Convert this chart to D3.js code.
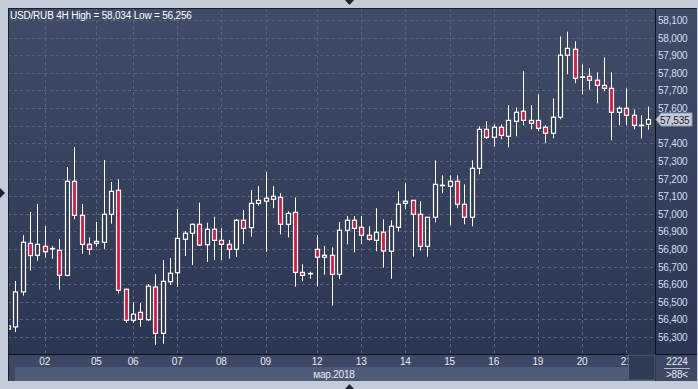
<!DOCTYPE html>
<html>
<head>
<meta charset="utf-8">
<script src="https://cdn.jsdelivr.net/npm/d3@7"></script>
<style>
  body { margin: 0; background: #c3ccd9; }
  svg { display: block; }
  text { font-family: 'Liberation Sans', Arial, sans-serif; font-size: 10px; letter-spacing: -0.2px; }
</style>
</head>
<body>
<div class="chart-container"></div>
<script>
// USD/RUB 4H candles
var opens = [56345, 56357, 56556, 56832, 56764, 56815, 56800, 56792, 56650, 57184,
  56991, 56826, 56832, 56838, 56997, 57133, 56571, 56395, 56440, 56398,
  56584, 56321, 56614, 56665, 56855, 56889, 56940, 56824, 56912, 56849,
  56826, 56798, 56963, 56921, 57059, 57071, 57082, 57093, 56940, 57008,
  56667, 56661, 56798, 56753, 56764, 56656, 56906, 56963, 56923, 56878,
  56849, 56895, 56787, 56923, 57059, 57076, 56997, 56815, 56980, 57162,
  57156, 57184, 57054, 56980, 57258, 57479, 57434, 57491, 57440, 57525,
  57582, 57530, 57530, 57491, 57457, 57548, 57900, 57934, 57777, 57780,
  57758, 57729, 57712, 57576, 57599, 57559, 57503, 57508];
var highs = [56385, 56618, 56879, 57010, 57055, 56930, 56817, 56856, 57265, 57379,
  57055, 56866, 56953, 57305, 57180, 57195, 56575, 56497, 56493, 56601,
  56657, 56737, 56748, 57027, 56902, 56945, 57063, 56949, 56983, 56919,
  56851, 56970, 57021, 57135, 57157, 57237, 57157, 57116, 57014, 57093,
  56713, 56671, 56879, 56817, 56809, 56953, 56987, 56987, 56987, 56929,
  57031, 56968, 56963, 57127, 57173, 57078, 57071, 56981, 57303, 57218,
  57218, 57218, 57167, 57303, 57496, 57525, 57508, 57508, 57616, 57604,
  57809, 57616, 57678, 57502, 57655, 58007, 58034, 57979, 57848, 57826,
  57803, 57888, 57803, 57610, 57712, 57593, 57559, 57608];
var lows = [56334, 56328, 56535, 56677, 56733, 56750, 56744, 56568, 56645, 56968,
  56773, 56767, 56813, 56801, 56943, 56546, 56381, 56381, 56358, 56392,
  56256, 56262, 56597, 56585, 56760, 56709, 56817, 56726, 56737, 56737,
  56745, 56754, 56828, 56870, 57046, 56784, 57031, 56883, 56866, 56586,
  56616, 56631, 56586, 56654, 56478, 56628, 56826, 56781, 56828, 56847,
  56787, 56694, 56631, 56900, 57025, 56756, 56790, 56756, 56951, 57116,
  56934, 57031, 56940, 56929, 57224, 57424, 57381, 57423, 57377, 57440,
  57502, 57479, 57468, 57400, 57428, 57536, 57792, 57741, 57678, 57703,
  57627, 57695, 57417, 57502, 57502, 57479, 57428, 57477];
var closes = [56363, 56556, 56838, 56762, 56826, 56784, 56803, 56650, 57184, 56991,
  56826, 56798, 56843, 56997, 57127, 56565, 56395, 56430, 56400, 56589,
  56321, 56616, 56662, 56860, 56889, 56940, 56822, 56912, 56849, 56826,
  56798, 56963, 56917, 57059, 57076, 57088, 57099, 56940, 57002, 56667,
  56650, 56659, 56753, 56764, 56656, 56906, 56963, 56917, 56878, 56855,
  56895, 56788, 56929, 57054, 57071, 56997, 56815, 56980, 57167, 57160,
  57184, 57054, 56980, 57258, 57479, 57434, 57491, 57445, 57530, 57576,
  57530, 57513, 57485, 57457, 57548, 57900, 57939, 57769, 57775, 57758,
  57729, 57712, 57576, 57599, 57559, 57502, 57502, 57535];

// first candle of each trading day (march 2018)
var dayLabels = ['02', '05', '06', '07', '08', '09', '12', '13', '14', '15', '16', '19', '20', '21'];
var dayStart = [5, 12, 17, 23, 29, 35, 42, 48, 54, 60, 66, 72, 78, 84];

var title = 'USD/RUB 4H High = 58,034 Low = 56,256';
var monthLabel = 'мар.2018';
var lastPrice = 57535;

var W = 698, H = 389,
  pLeft = 8, pTop = 8, pRight = 655, pBottom = 354, outerR = 697, outerB = 381;

var svg = d3
  .select('.chart-container')
  .append('svg')
  .attr('width', W)
  .attr('height', H);

var defs = svg.append('defs');
var grad = defs
  .append('linearGradient')
  .attr('id', 'bg')
  .attr('x1', 0).attr('y1', 0).attr('x2', 0).attr('y2', 1);
grad.append('stop').attr('offset', '0%').attr('stop-color', '#3f4c67');
grad.append('stop').attr('offset', '100%').attr('stop-color', '#2b3653');

defs
  .append('clipPath')
  .attr('id', 'plot-clip')
  .append('rect')
  .attr('x', pLeft + 1)
  .attr('y', pTop + 1)
  .attr('width', pRight - pLeft - 1)
  .attr('height', pBottom - pTop - 1);

// panel
svg
  .append('rect')
  .attr('x', pLeft)
  .attr('y', pTop)
  .attr('width', outerR - pLeft)
  .attr('height', pBottom - pTop)
  .attr('fill', 'url(#bg)');

// time axis bands
svg
  .append('rect')
  .attr('x', pLeft)
  .attr('y', pBottom)
  .attr('width', outerR - pLeft)
  .attr('height', outerB - pBottom)
  .attr('fill', '#3d4964');
svg
  .append('rect')
  .attr('x', 15)
  .attr('y', 367)
  .attr('width', pRight - 15)
  .attr('height', outerB - 367)
  .attr('fill', '#4e5c77');

// frame lines
svg
  .append('path')
  .attr('d', 'M' + (pLeft + 0.5) + ',' + outerB + 'V' + (pTop + 0.5) + 'H' + outerR)
  .attr('fill', 'none')
  .attr('stroke', '#1a2030');
svg
  .append('line')
  .attr('x1', pLeft)
  .attr('x2', outerR)
  .attr('y1', pBottom + 0.5)
  .attr('y2', pBottom + 0.5)
  .attr('stroke', '#0e1220');
svg
  .append('line')
  .attr('x1', pRight + 0.5)
  .attr('x2', pRight + 0.5)
  .attr('y1', pTop)
  .attr('y2', outerB)
  .attr('stroke', '#0e1220');

// scales
var x = d3
  .scaleLinear()
  .domain([0, opens.length - 1])
  .range([7.94, 7.94 + 7.36 * (opens.length - 1)]);

var y = d3.scaleLinear().domain([56300, 58100]).range([337, 20]);

var plot = svg.append('g').attr('clip-path', 'url(#plot-clip)');

// grid
plot
  .selectAll('.hgrid')
  .data(y.ticks(18))
  .enter()
  .append('line')
  .attr('class', 'hgrid')
  .attr('x1', pLeft)
  .attr('x2', pRight)
  .attr('y1', function (d) { return Math.round(y(d)) + 0.5; })
  .attr('y2', function (d) { return Math.round(y(d)) + 0.5; })
  .attr('stroke', '#58647d')
  .attr('stroke-dasharray', '3,3');

plot
  .selectAll('.vgrid')
  .data(dayStart)
  .enter()
  .append('line')
  .attr('class', 'vgrid')
  .attr('x1', function (d) { return Math.round(x(d)) + 0.5; })
  .attr('x2', function (d) { return Math.round(x(d)) + 0.5; })
  .attr('y1', pTop)
  .attr('y2', pBottom)
  .attr('stroke', '#58647d')
  .attr('stroke-dasharray', '3,3');

// candles
var idx = d3.range(opens.length);
var candle = plot
  .selectAll('.candle')
  .data(idx)
  .enter()
  .append('g')
  .attr('class', 'candle');

candle
  .append('line')
  .attr('x1', function (i) { return Math.round(x(i)) + 0.5; })
  .attr('x2', function (i) { return Math.round(x(i)) + 0.5; })
  .attr('y1', function (i) { return y(highs[i]); })
  .attr('y2', function (i) { return y(lows[i]); })
  .attr('stroke', '#ffffff')
  .attr('stroke-width', 1);

candle
  .append('rect')
  .attr('x', function (i) { return Math.round(x(i)) - 1.5; })
  .attr('width', 4)
  .attr('y', function (i) { return y(Math.max(opens[i], closes[i])); })
  .attr('height', function (i) {
    return Math.max(0.5, Math.abs(y(opens[i]) - y(closes[i])));
  })
  .attr('fill', function (i) { return closes[i] < opens[i] ? '#e3163e' : '#2f3a56'; })
  .attr('stroke', '#ffffff')
  .attr('stroke-width', 1.2);

// title
svg
  .append('text')
  .attr('x', 10)
  .attr('y', 19)
  .attr('fill', '#ffffff')
  .text(title);

// price axis (the tick under the last-price marker is hidden by it)
var py = y(lastPrice);
svg
  .selectAll('.ptick')
  .data(y.ticks(18).filter(function (d) { return Math.abs(y(d) - py) > 10; }))
  .enter()
  .append('text')
  .attr('class', 'ptick')
  .attr('x', 658)
  .attr('y', function (d) { return y(d) + 4; })
  .attr('fill', '#d2def2')
  .text(function (d) { return d3.format(',')(d); });

// current price marker
svg
  .append('path')
  .attr('d', 'M656,' + py + 'L661,' + (py - 6.5) + 'H692V' + (py + 6.5) + 'H661Z')
  .attr('fill', '#c4cbd6')
  .attr('stroke', '#8f99aa');
svg
  .append('text')
  .attr('x', 660)
  .attr('y', py + 4)
  .attr('fill', '#1b2236')
  .text(d3.format(',')(lastPrice));

// date axis
svg
  .selectAll('.dtick')
  .data(dayStart)
  .enter()
  .append('text')
  .attr('class', 'dtick')
  .attr('x', function (d) { return x(d); })
  .attr('y', 365)
  .attr('text-anchor', 'middle')
  .attr('fill', '#e4eaf4')
  .text(function (d, i) { return dayLabels[i]; });

svg
  .append('text')
  .attr('x', 334)
  .attr('y', 378)
  .attr('text-anchor', 'middle')
  .attr('fill', '#e4eaf4')
  .text(monthLabel);

// scroll thumb at the right end of the time axis
svg
  .append('rect')
  .attr('x', 628.5)
  .attr('y', pBottom + 1)
  .attr('width', pRight - 628.5)
  .attr('height', outerB - pBottom - 2)
  .attr('fill', '#2f3b56')
  .attr('stroke', '#56627a');

// corner counters
svg
  .append('text')
  .attr('x', 677)
  .attr('y', 365)
  .attr('text-anchor', 'middle')
  .attr('fill', '#e4eaf4')
  .text('2224');
svg
  .append('line')
  .attr('x1', 664)
  .attr('x2', 690)
  .attr('y1', 368.5)
  .attr('y2', 368.5)
  .attr('stroke', '#aeb8c8');
svg
  .append('text')
  .attr('x', 677)
  .attr('y', 378)
  .attr('text-anchor', 'middle')
  .attr('fill', '#e4eaf4')
  .text('>' + opens.length + '<');

// little scroll arrows on the frame
svg
  .append('path')
  .attr('d', 'M345,0H354L349.5,5Z')
  .attr('fill', '#1b2233');
svg
  .append('path')
  .attr('d', 'M0,188V198L5,193Z')
  .attr('fill', '#1b2233');
svg
  .append('path')
  .attr('d', 'M345,389H354L349.5,384Z')
  .attr('fill', '#1b2233');
</script>
</body>
</html>
